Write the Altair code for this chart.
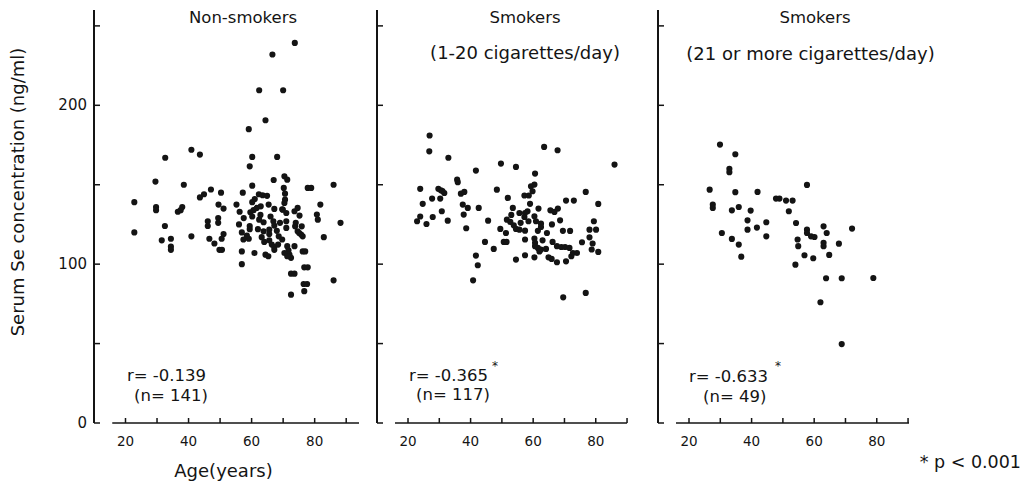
import altair as alt
import pandas as pd

# ---------------- data ----------------
P1_AGE = [22.8, 22.8, 29.5, 29.7, 29.7, 32.6, 32.5, 31.5, 34.4, 34.4,
          34.4, 38.5, 36.6, 38.0, 37.5, 40.9, 43.6, 40.9, 43.6, 44.9,
          47.1, 46.1, 46.1, 46.6, 48.2, 50.3, 49.5, 51.1, 49.4, 49.4,
          49.8, 50.6, 50.5, 51.1, 55.2, 56.2, 56.0, 57.2, 56.9, 57.4,
          56.9, 56.9, 59.1, 59.4, 60.2, 60.2, 60.2, 59.6, 60.2, 59.4,
          59.4, 59.1, 60.9, 62.4, 64.4, 66.6, 70.0, 73.7, 68.1, 67.0,
          62.3, 63.5, 64.9, 60.6, 61.6, 62.9, 62.4, 63.8, 63.8, 62.0,
          63.2, 64.4, 65.3, 65.4, 67.2, 66.9, 67.2, 65.6, 65.6, 65.6,
          66.4, 67.2, 67.2, 68.6, 69.7, 68.4, 70.4, 71.3, 70.2, 70.6,
          70.6, 70.4, 69.9, 71.0, 71.0, 71.0, 69.7, 71.3, 71.7, 72.0,
          72.5, 70.4, 71.3, 73.6, 72.5, 72.5, 73.6, 73.6, 74.6, 75.2,
          73.8, 74.6, 75.1, 75.7, 76.2, 75.9, 76.2, 77.0, 76.7, 77.8,
          76.5, 77.6, 76.7, 77.8, 78.9, 80.7, 81.0, 81.8, 82.9, 86.0,
          86.0, 88.2, 57.5, 62.8, 66.0, 68.0, 64.0, 69.0, 74.0, 58.5, 61.0]
P1_SE = [139, 120, 152, 136, 134, 167, 124, 115, 116, 111,
         109, 150, 133, 136, 134, 172, 169, 117.5, 142, 144,
         147, 127, 124, 116, 113, 145, 137.5, 135, 129, 126,
         109, 109, 116, 119, 137.5, 133, 125, 145, 120, 115.5,
         108, 100, 185, 161.6, 167.5, 149.4, 139, 132.7, 130, 124,
         122, 116, 107, 209.5, 190.6, 232, 209.5, 239.3, 167.5, 153,
         144, 143.4, 143, 134, 135.4, 136.4, 128, 126.4, 120.7, 122,
         117, 106, 105, 137.5, 134.8, 127, 124.3, 121.7, 119, 115,
         112.3, 110.8, 109, 117.5, 115.5, 112.3, 155.3, 153.2, 148, 144.4,
         140.6, 138.5, 134.3, 132.2, 127, 122.8, 134.5, 111.3, 108.7, 106,
         104, 107, 105, 111.3, 80.8, 94, 94, 133.3, 135.4, 130.6,
         123.8, 120.7, 119.6, 118.6, 117.5, 123.8, 108, 108, 98, 98,
         87.5, 87.5, 83, 148, 148, 131.2, 128, 137.5, 117, 150,
         89.8, 126, 129, 131, 130, 121, 114, 126, 126, 118, 141]

P2_AGE = [26.9, 26.8, 32.9, 23.9, 24.7, 22.9, 23.9, 25.9, 27.7, 30.3,
          29.7, 30.5, 31.6, 27.9, 30.8, 32.7, 35.7, 35.9, 36.9, 38.0,
          37.5, 39.1, 37.8, 38.6, 41.7, 42.6, 41.7, 42.3, 40.8, 44.6,
          45.6, 47.4, 48.4, 49.7, 49.5, 51.3, 50.6, 51.5, 51.9, 54.5,
          53.5, 51.6, 52.7, 53.8, 54.5, 55.6, 54.5, 55.6, 57.4, 58.2,
          57.2, 57.4, 57.4, 57.4, 57.2, 58.6, 59.3, 60.4, 59.8, 60.6,
          63.5, 67.8, 61.7, 60.4, 60.9, 62.5, 62.5, 60.4, 60.6, 60.6,
          61.5, 62.5, 64.1, 60.4, 64.4, 64.9, 65.9, 67.6, 65.5, 66.8,
          67.9, 68.6, 66.2, 67.6, 69.0, 70.2, 71.6, 70.5, 72.2, 72.7,
          70.5, 73.0, 71.8, 69.6, 76.8, 76.8, 80.8, 75.6, 78.0, 79.4,
          80.1, 78.0, 78.7, 80.8, 86.0, 56.0, 58.5, 61.5, 63.0, 59.0,
          66.0, 69.5, 74.0, 79.0, 31.0, 62.0, 53.0]
P2_SE = [181, 171, 167, 147.4, 138, 127, 130, 125.3, 141.3, 141.3,
         147.4, 146.5, 144.8, 129.7, 133.3, 127.4, 153.2, 151.6, 144.4, 145.5,
         137.5, 135.4, 131.2, 122.6, 158.9, 135.4, 105.4, 99.3, 89.8, 114,
         127.4, 109.6, 146.9, 163.3, 122.2, 119.6, 114, 114, 141.7, 161.2,
         135.4, 128, 126.6, 124.5, 122.2, 121.7, 102.9, 132.2, 132.2, 133.3,
         129.7, 121.1, 115.5, 105.6, 143.2, 143.2, 149, 150.1, 145.9, 157,
         173.8, 171.7, 135, 130.1, 127, 125.5, 123.4, 116.1, 113.4, 111.3,
         110.2, 109.2, 109.6, 104.3, 119.6, 104.3, 103.3, 101.2, 133.9, 132.9,
         135, 127.6, 114, 111.3, 110.8, 110.8, 110.2, 101.8, 105, 107,
         140, 140, 120.9, 79.1, 81.9, 145.5, 137.9, 113.8, 121.7, 127,
         121.7, 116.9, 109.2, 107.7, 162.7, 126, 127, 121, 115, 138,
         125, 121, 107, 113, 146, 108, 131]

P3_AGE = [29.9, 34.8, 32.9, 32.9, 26.6, 27.6, 27.6, 34.8, 33.7, 35.9,
          41.9, 39.7, 38.7, 30.5, 38.7, 41.7, 44.7, 44.7, 33.7, 35.9,
          36.7, 47.8, 48.9, 51.0, 53.1, 51.9, 54.2, 57.7, 54.7, 54.9,
          54.0, 56.9, 59.7, 57.7, 57.7, 59.0, 60.1, 63.0, 64.0, 63.0,
          63.0, 64.8, 67.9, 72.1, 63.8, 68.8, 78.9, 62.0, 68.8]
P3_SE = [175.3, 169.2, 160, 157.9, 146.9, 137.5, 135.4, 145.3, 133.9, 136,
         145.5, 133.7, 127.6, 119.6, 121.7, 123, 126.4, 117.5, 115.9, 112.3,
         104.7, 141.3, 141.3, 140, 140, 133.3, 125.9, 149.9, 115.5, 111.3,
         99.7, 105.6, 103.7, 121.7, 119.6, 117.5, 117.1, 123.8, 119.6, 113.4,
         111.3, 105.8, 112.9, 122.4, 91.1, 91.1, 91.3, 76, 49.7]

GROUP_TITLES = ["Non-smokers", "Smokers", "Smokers"]
GROUP_SUBTITLES = ["", "(1-20 cigarettes/day)", "(21 or more cigarettes/day)"]
R_LABELS = ["r= -0.139", "r= -0.365", "r= -0.633"]
N_LABELS = ["(n= 141)", "(n= 117)", "(n= 49)"]
SIG_MARK = ["", "*", "*"]
FOOTNOTE = "* p < 0.001"
X_TITLE = "Age(years)"
Y_TITLE = "Serum Se concentration (ng/ml)"
X_LABEL_VALUES = [20, 40, 60, 80]
X_TICK_VALUES = [20, 30, 40, 50, 60, 70, 80, 90]
Y_LABEL_VALUES = [0, 100, 200]
Y_TICK_VALUES = [0, 50, 100, 150, 200, 250]

# ---------------- style ----------------
H = 413
FONT = "DejaVu Sans"
INK = "#141414"
TXT = 16.5


def txt(s, x, y, align="center", size=TXT, angle=0):
    return alt.Chart(pd.DataFrame({"t": [s]})).mark_text(
        align=align, baseline="middle", fontSize=size, font=FONT,
        color=INK, angle=angle
    ).encode(text="t:N", x=alt.value(x), y=alt.value(y))


def panel(ages, ses, xdom, width, line_span, first, texts):
    xs = alt.Scale(domain=xdom, nice=False, zero=False)
    ys = alt.Scale(domain=[0, 260], nice=False, zero=False)
    pts = alt.Chart(pd.DataFrame({"age": ages, "se": ses})).mark_circle(
        size=38, color=INK, opacity=1
    ).encode(x=alt.X("age:Q", scale=xs, axis=None),
             y=alt.Y("se:Q", scale=ys, axis=None))
    # y axis line (full height of the plot)
    yline = alt.Chart(pd.DataFrame({"a": [0], "b": [260]})).mark_rule(
        color=INK, strokeWidth=2
    ).encode(y=alt.Y("a:Q", scale=ys, axis=None), y2="b:Q", x=alt.value(0))
    # x axis line
    xline = alt.Chart(pd.DataFrame({"a": [line_span[0]], "b": [line_span[1]]})).mark_rule(
        color=INK, strokeWidth=1.5
    ).encode(x=alt.X("a:Q", scale=xs, axis=None), x2="b:Q", y=alt.value(H))
    # inward ticks
    xt = alt.Chart(pd.DataFrame({"t": X_TICK_VALUES})).mark_rule(
        color=INK, strokeWidth=1.5
    ).encode(x=alt.X("t:Q", scale=xs, axis=None), y=alt.value(H), y2=alt.value(H - 5))
    yt = alt.Chart(pd.DataFrame({"t": Y_TICK_VALUES})).mark_rule(
        color=INK, strokeWidth=1.5
    ).encode(y=alt.Y("t:Q", scale=ys, axis=None), x=alt.value(0), x2=alt.value(6))
    # x tick labels
    xl = alt.Chart(pd.DataFrame({"v": X_LABEL_VALUES})).mark_text(
        fontSize=13.5, font=FONT, color=INK, baseline="middle", align="center"
    ).encode(x=alt.X("v:Q", scale=xs, axis=None), y=alt.value(H + 19), text="v:Q")
    layers = [pts, yline, xline, xt, yt, xl]
    if first:
        yl = alt.Chart(pd.DataFrame({"v": Y_LABEL_VALUES})).mark_text(
            fontSize=15, font=FONT, color=INK, baseline="middle", align="right"
        ).encode(y=alt.Y("v:Q", scale=ys, axis=None), x=alt.value(-7), text="v:Q")
        layers.append(yl)
    return alt.layer(*layers, *texts).properties(width=width, height=H)


p1 = panel(P1_AGE, P1_SE, [10.01, 94.06], 265, [15.8, 94.06], True, [
    txt(GROUP_TITLES[0], 149, 8),
    txt(R_LABELS[0], 33, 366, "left"),
    txt(N_LABELS[0], 40, 386, "left"),
    txt(X_TITLE, 129.5, 462, size=18),
    txt(Y_TITLE, -75.5, 182, angle=270, size=18),
])
p2 = panel(P2_AGE, P2_SE, [10.09, 94.14], 263, [15.84, 90.0], False, [
    txt(GROUP_TITLES[1], 148, 8),
    txt(GROUP_SUBTITLES[1], 148, 44, size=18),
    txt(R_LABELS[1], 32, 366, "left"),
    txt(SIG_MARK[1], 118, 356, size=12),
    txt(N_LABELS[1], 39, 385, "left"),
])
p3 = panel(P3_AGE, P3_SE, [10.09, 90.3], 251, [15.84, 90.3], False, [
    txt(GROUP_TITLES[2], 157, 8),
    txt(GROUP_SUBTITLES[2], 152.5, 45, size=18),
    txt(R_LABELS[2], 31, 367, "left"),
    txt(SIG_MARK[2], 120, 356, size=12),
    txt(N_LABELS[2], 45, 387, "left"),
    txt(FOOTNOTE, 363, 453, "right", size=17.5),
])

chart = alt.hconcat(p1, p2, p3, spacing=18, bounds="flush").properties(
    padding={"left": 1, "top": 1, "right": 0, "bottom": 0},
    background="white",
).configure_view(strokeWidth=0)

chart.save("out.html", embed_options={"renderer": "svg", "actions": False})
